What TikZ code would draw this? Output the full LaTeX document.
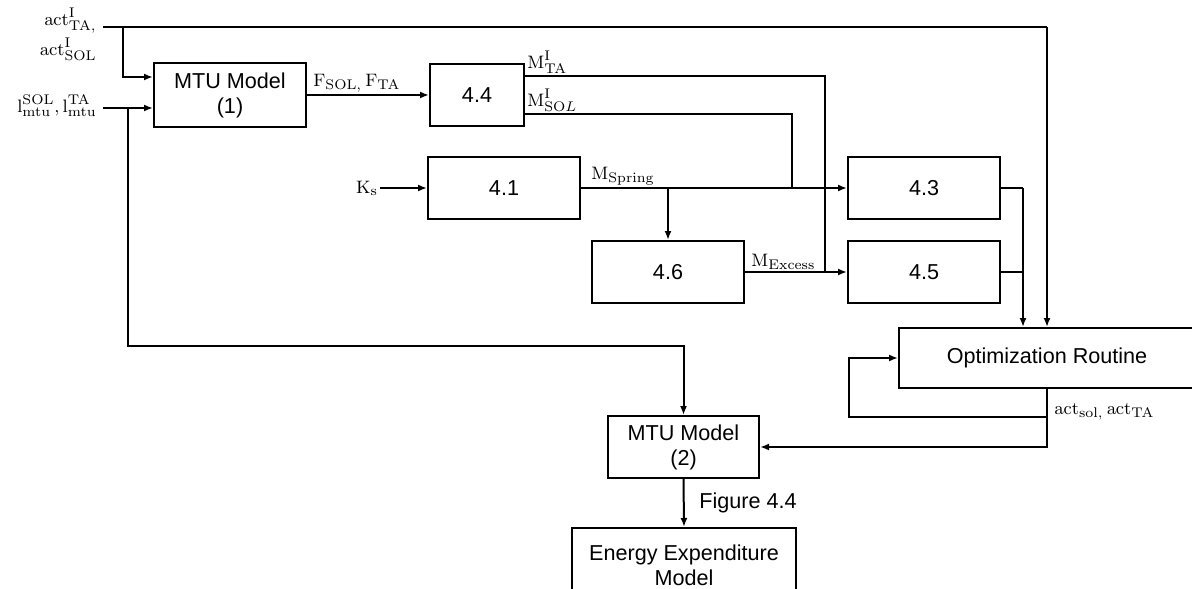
\documentclass[tikz,border=0pt]{standalone}
\usepackage[no-math]{fontspec}
\setmainfont{Liberation Sans}
\usetikzlibrary{arrows.meta, positioning, calc}

\begin{document}
\begin{tikzpicture}[x=0.5pt, y=-0.5pt,
    blk/.style={draw=black, line width=1pt, fill=white, minimum width=76pt, minimum height=31pt, inner sep=0pt, align=center, font=\fontsize{10.8}{12.5}\selectfont},
    sig/.style={font=\fontsize{9.5}{11}\selectfont, inner sep=1pt},
    wire/.style={line width=1pt},
    flow/.style={wire, -{Latex[length=4.5pt,width=3.5pt]}}]
  \useasboundingbox (0,0) rectangle (1192,588);

  % Bloques
  \node[blk, minimum height=32pt] (mtuA) at (230,95) {MTU Model\\(1)};
  \node[blk, minimum width=47pt] (blk44) at (477,95.5) {4.4};
  \node[blk] (blk41) at (504,188) {4.1};
  \node[blk] (blk43) at (924,188) {4.3};
  \node[blk] (blk46) at (668,272) {4.6};
  \node[blk] (blk45) at (924,272) {4.5};
  \node[blk, minimum width=148pt, minimum height=30pt] (optim) at (1047,358) {Optimization Routine};
  \node[blk, minimum width=75.5pt] (mtuB) at (683.5,447) {MTU Model\\(2)};
  \node[blk, minimum width=112pt, minimum height=37pt] (energy) at (684,565) {Energy Expenditure\\Model};

  % Entradas de activacion
  \coordinate (actIn) at (103,27);
  \coordinate (actTap) at (123,27);
  \coordinate (actEnd) at (1047,27);
  \draw[wire] (actIn) -- (actEnd);
  \draw[flow] (actEnd) -- (actEnd |- optim.north);
  \draw[flow] (actTap) |- ([yshift=9pt]mtuA.west);
  \node[sig, anchor=east, align=right, font=\fontsize{9.5}{15}\selectfont] (actLbl) at (99,34) {$\mathrm{act^{I}_{TA,}}$\\$\mathrm{act^{I}_{SOL}}$};

  % Longitudes MTU
  \coordinate (lenIn) at (103,108);
  \coordinate (lenTap) at (128,108);
  \coordinate (lenLow) at (128,346);
  \draw[flow] (lenIn) -- (lenIn -| mtuA.west);
  \draw[flow] (lenTap) -- (lenLow) -| (mtuB.north);
  \node[sig, anchor=east] (lenLbl) at (99,106) {$\mathrm{l^{SOL}_{mtu},l^{TA}_{mtu}}$};

  % Fuerzas y momentos
  \draw[flow] (mtuA.east) -- (mtuA.east -| blk44.west);
  \node[sig, anchor=south west] (forceLbl) at ([xshift=2pt]mtuA.east) {$\mathrm{F_{SOL,}\,F_{TA}}$};
  \coordinate (mtaDown) at (825,272);
  \coordinate (msolDown) at (792,188);
  \draw[wire] ([yshift=9.75pt]blk44.east) -| (mtaDown);
  \draw[wire] ([yshift=-9.25pt]blk44.east) -| (msolDown);
  \node[sig, anchor=south west] (mtaLbl) at ([yshift=9.75pt]blk44.east) {$\mathrm{M^{I}_{TA}}$};
  \node[sig, anchor=south west] (msolLbl) at ([yshift=-9.25pt]blk44.east) {$\mathrm{M}^{\mathrm{I}}_{\mathrm{SO}L}$};

  % Resorte
  \node[sig] (ks) at (367,188) {$\mathrm{K_s}$};
  \draw[flow] (ks) -- (blk41.west);
  \draw[flow] (blk41.east) -- (blk43.west);
  \node[sig, anchor=south west] (springLbl) at ([xshift=4pt]blk41.east) {$\mathrm{M_{Spring}}$};
  \coordinate (springTap) at (668,188);
  \draw[flow] (springTap) -- (blk46.north);
  \draw[flow] (blk46.east) -- (blk45.west);
  \node[sig, anchor=south west] (excessLbl) at ([xshift=2pt]blk46.east) {$\mathrm{M_{Excess}}$};

  % Hacia la optimizacion
  \coordinate (sumX) at (1023,188);
  \draw[wire] (blk43.east) -- (sumX);
  \draw[flow] (sumX) -- (sumX |- optim.north);
  \draw[wire] (blk45.east) -- (blk45.east -| sumX);

  % Salidas de la optimizacion
  \coordinate (loopTap) at (1047,417);
  \coordinate (loopL) at (849,417);
  \draw[flow] (optim.south) |- (mtuB.east);
  \draw[flow] (loopTap) -- (loopL) |- (optim.west);
  \node[sig, anchor=west] (actOutLbl) at (1052,412) {$\mathrm{act_{sol,}\,act_{TA}}$};

  % Modelo energetico
  \draw[flow] (mtuB.south) -- (energy.north);
  \node[anchor=west, inner sep=1pt, font=\fontsize{10.8}{13}\selectfont] (figLbl) at (697,503) {Figure 4.4};
\end{tikzpicture}
\end{document}
